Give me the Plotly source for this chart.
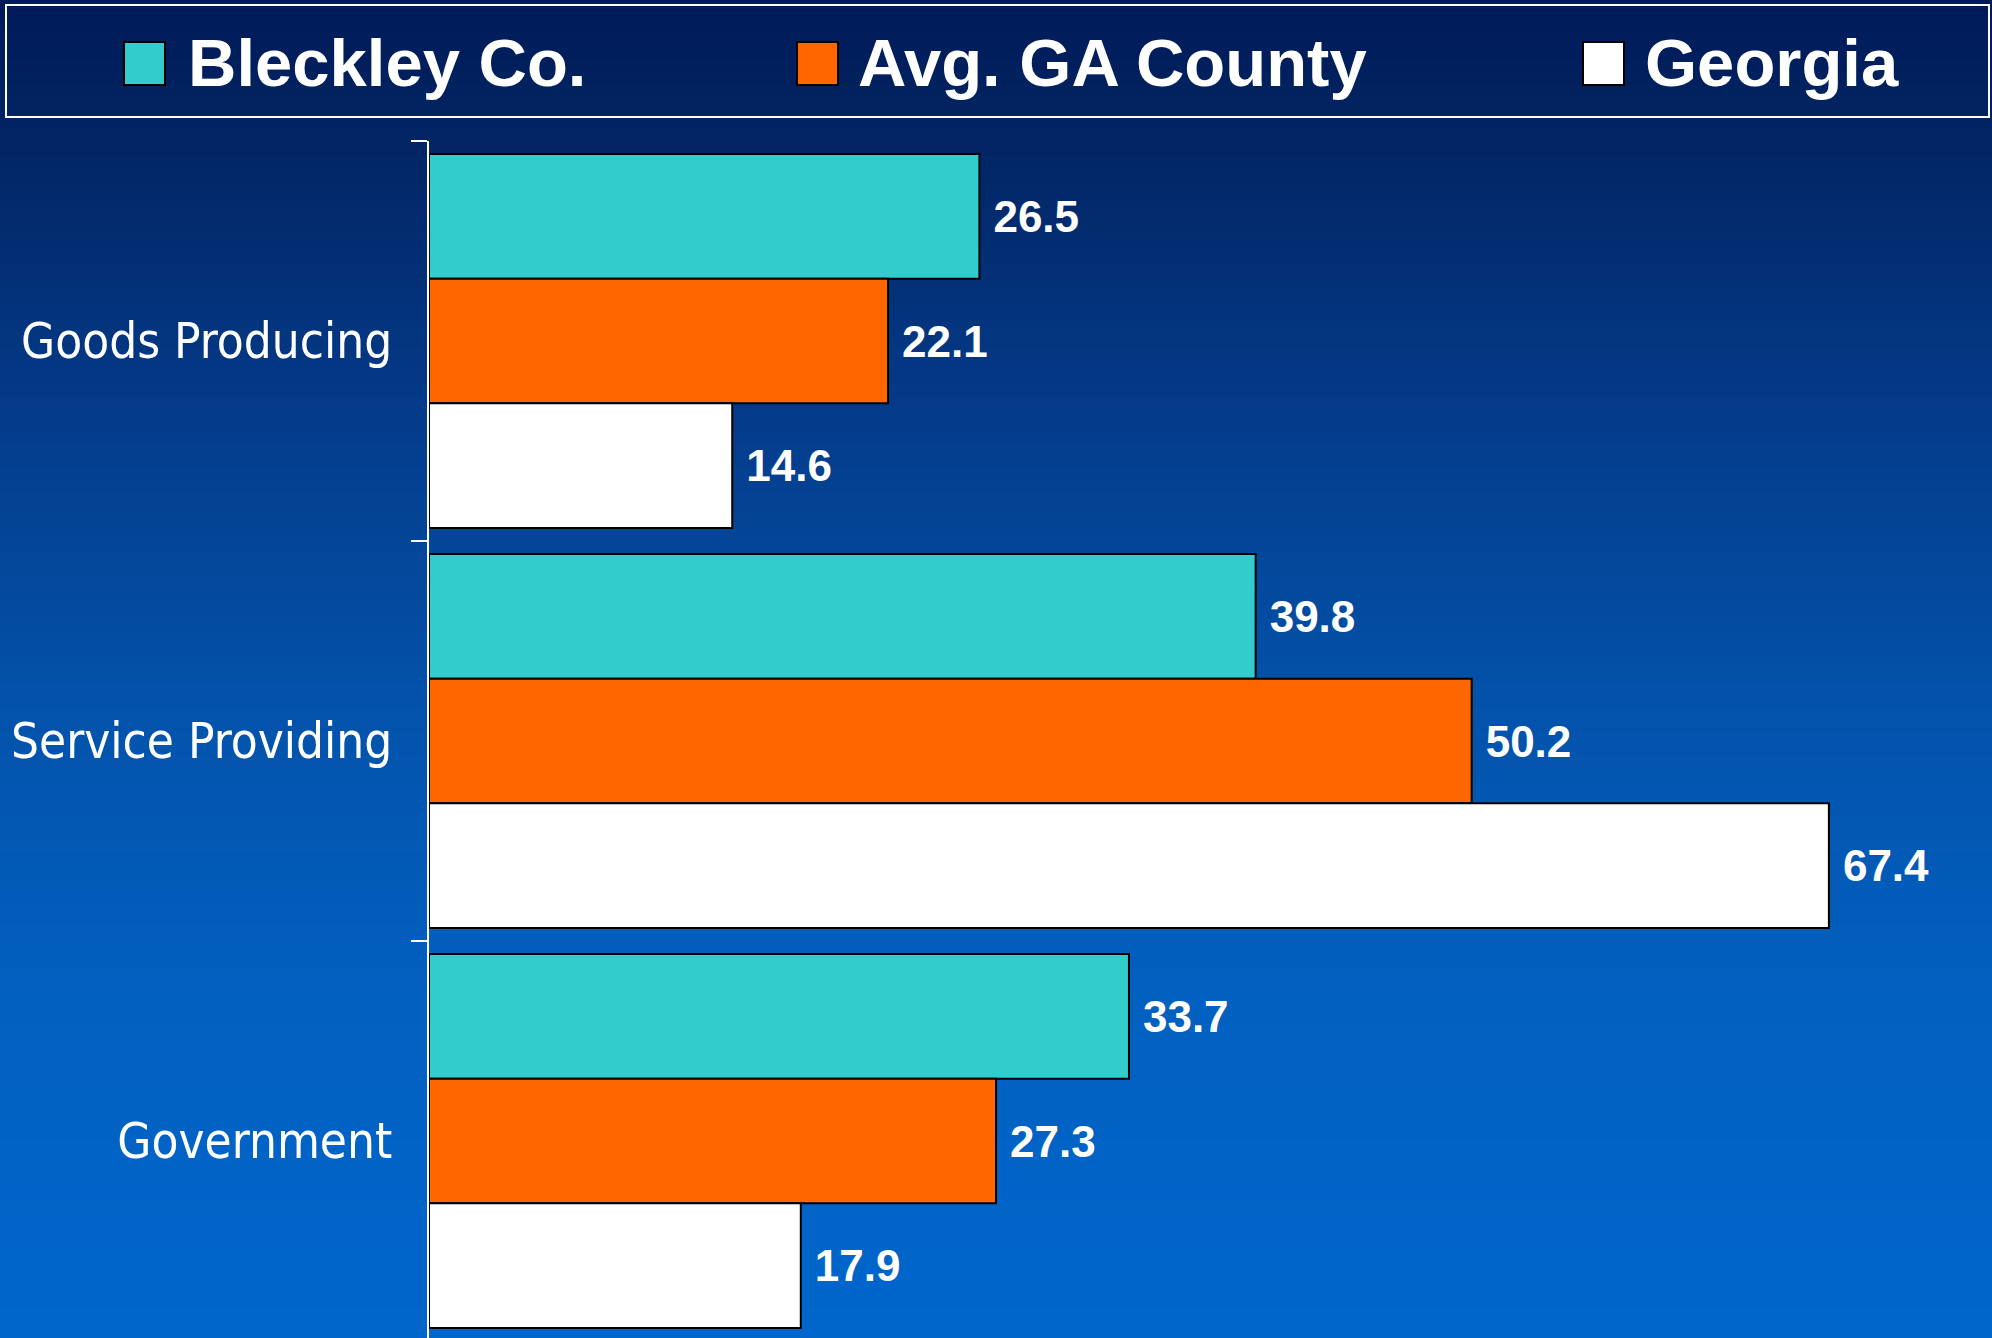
import plotly.graph_objects as go
import numpy as np

# ---- data ----
categories = ["Goods Producing", "Service Providing", "Government"]
series_names = ["Bleckley Co.", "Avg. GA County", "Georgia"]
bleckley = [26.5, 39.8, 33.7]
avg_ga_county = [22.1, 50.2, 27.3]
georgia = [14.6, 67.4, 17.9]
series_colors = ["#33CCCC", "#FF6600", "#FFFFFF"]

W, H = 1992, 1338
AXIS_X, PLOT_TOP = 429, 141
ML, MR, MT, MB = AXIS_X, 0, PLOT_TOP, 0
PW, PH = W - ML - MR, H - MT - MB


def px_x(x):  # page x -> paper
    return (x - ML) / PW


def px_y(y):  # page y -> paper
    return (H - MB - y) / PH


fig = go.Figure()
for name, vals, col in zip(series_names, [bleckley, avg_ga_county, georgia], series_colors):
    fig.add_trace(go.Bar(
        y=categories, x=vals, name=name, orientation="h",
        marker=dict(color=col, line=dict(color="#000000", width=2)),
        text=vals, texttemplate="\u2005%{x:.1f}", textposition="outside",
        textfont=dict(family="Liberation Sans, Arial, sans-serif", size=44, color="white", weight="bold"),
        cliponaxis=False, showlegend=False,
    ))

# ---- background gradient (decoration) ----
stops_y = [0, 130, 400, 700, 1000, 1338]
stops_c = [(0, 26, 88), (2, 36, 98), (4, 58, 136), (3, 82, 170), (2, 96, 192), (0, 102, 204)]
shapes = []
step = 6
for y in range(0, H + step, step):
    yc = y + step / 2
    c = [int(round(np.interp(yc, stops_y, [s[k] for s in stops_c]))) for k in range(3)]
    shapes.append(dict(type="rect", xref="paper", yref="paper", layer="below",
                       x0=px_x(0), x1=px_x(W), y0=px_y(y + step + 1), y1=px_y(y),
                       line=dict(width=0), fillcolor=f"rgb({c[0]},{c[1]},{c[2]})"))

# ---- legend box (manual) ----
shapes.append(dict(type="rect", xref="paper", yref="paper", layer="above",
                   x0=px_x(6), x1=px_x(1989), y0=px_y(117), y1=px_y(5),
                   line=dict(color="white", width=2), fillcolor="rgba(0,0,0,0)"))
legend_sq_x = [124, 797, 1583]
legend_txt_x = [186, 856, 1643]
annotations = []
for name, col, sx, tx in zip(series_names, series_colors, legend_sq_x, legend_txt_x):
    shapes.append(dict(type="rect", xref="paper", yref="paper", layer="above",
                       x0=px_x(sx), x1=px_x(sx + 41), y0=px_y(85), y1=px_y(42),
                       line=dict(color="black", width=2), fillcolor=col))
    annotations.append(dict(xref="paper", yref="paper", x=px_x(tx), y=px_y(62),
                            xanchor="left", yanchor="middle", showarrow=False, text=name,
                            font=dict(family="Liberation Sans, Arial, sans-serif", size=67,
                                      color="white", weight="bold")))

fig.update_layout(
    width=W, height=H,
    margin=dict(l=ML, r=MR, t=MT, b=MB, pad=0, autoexpand=False),
    paper_bgcolor="#00337a", plot_bgcolor="rgba(0,0,0,0)",
    barmode="group", bargap=0.065, bargroupgap=0,
    shapes=shapes, annotations=annotations,
    xaxis=dict(range=[0, PW / 20.77], visible=False, showgrid=False, zeroline=False,
               fixedrange=True, automargin=False),
    yaxis=dict(type="category", range=[-0.5 + PH / 400.0, -0.5], showgrid=False, zeroline=False,
               automargin=False,
               showline=True, linecolor="white", linewidth=2,
               ticks="outside", tickson="boundaries", ticklen=16, tickwidth=2, tickcolor="white",
               tickfont=dict(family="DejaVu Sans Condensed, Liberation Sans Narrow, Arial Narrow, sans-serif",
                             size=49, color="white"),
               ticklabelstandoff=25),
    showlegend=False,
)

fig.write_html("out.html", config={"displayModeBar": False},
               post_script="document.body.style.margin='0';document.body.style.padding='0';")
